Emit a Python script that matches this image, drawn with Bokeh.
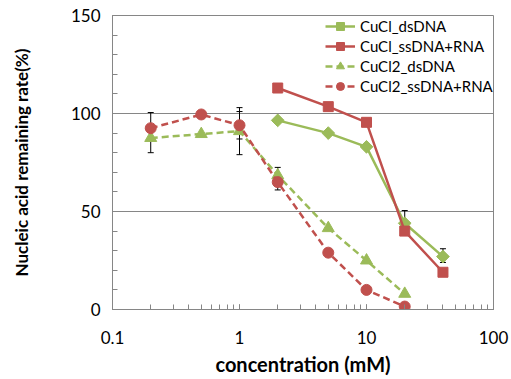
import math
from bokeh.plotting import figure
from bokeh.models import (ColumnDataSource, Whisker, LogTicker, FixedTicker,
                          CustomJSTickFormatter, Legend, LegendItem)
from bokeh.embed import file_html
from bokeh.resources import INLINE

# ---- data ----
cucl_x = [2, 5, 10, 20, 40]
cucl_ds = [96.5, 90, 83, 44, 27]
cucl_ss = [113, 103.5, 95.5, 40, 19]

cucl2_x = [0.2, 0.5, 1, 2, 5, 10, 20]
cucl2_ds = [87.5, 89.5, 91, 68.5, 41.5, 25, 8]
cucl2_ss = [92.5, 99.5, 94, 65, 29, 10, 1.5]

err_x = [0.2, 1, 1, 2, 20, 40]
err_lower = [80, 87, 79, 61, 39, 24]
err_upper = [100.5, 101, 103, 72.5, 50.5, 31]

x_ticks = [0.1, 1, 10, 100]
y_ticks = [0, 50, 100, 150]

GREEN = "#9BBB59"
RED = "#C0504D"
GRAY = "#868686"
FONT = "Lato"

p = figure(width=511, height=379, x_axis_type="log",
           x_range=(0.1, 100), y_range=(0, 150),
           output_backend="svg", toolbar_location=None,
           min_border_left=112, min_border_right=18,
           min_border_top=15, min_border_bottom=70)

p.outline_line_color = GRAY
p.outline_line_width = 1
p.xgrid.visible = False
p.ygrid.ticker = FixedTicker(ticks=[50, 100])
p.ygrid.grid_line_color = GRAY
p.ygrid.grid_line_width = 1

# x axis
p.xaxis.ticker = LogTicker(desired_num_ticks=4, num_minor_ticks=10)
p.xaxis.formatter = CustomJSTickFormatter(
    code="return tick >= 1 ? tick.toFixed(0) : tick.toFixed(1);")
p.xaxis.axis_label = "concentration (mM)"
# y axis
p.yaxis.ticker = FixedTicker(ticks=y_ticks, minor_ticks=list(range(0, 151, 10)))
p.yaxis.axis_label = "Nucleic acid remaining rate(%)"

for ax in (p.xaxis[0], p.yaxis[0]):
    ax.axis_line_color = GRAY
    ax.major_tick_line_color = GRAY
    ax.minor_tick_line_color = GRAY
    ax.major_tick_in = 5
    ax.major_tick_out = 0
    ax.minor_tick_in = 5
    ax.minor_tick_out = 0
    ax.major_label_text_font = FONT
    ax.major_label_text_font_size = "17px"
    ax.major_label_text_color = "#000000"
    ax.axis_label_text_font = FONT
    ax.axis_label_text_font_style = "bold"
    ax.axis_label_text_color = "#000000"

p.xaxis.axis_label_text_font_size = "20px"
p.yaxis.axis_label_text_font_size = "17px"
p.xaxis.major_label_standoff = 21
p.xaxis.axis_label_standoff = 5
p.yaxis.major_label_standoff = 12
p.yaxis.axis_label_standoff = 36

items = []

# CuCl_dsDNA
l1 = p.line(cucl_x, cucl_ds, line_color=GREEN, line_width=2.5)
m1 = p.scatter(cucl_x, cucl_ds, marker="square", angle=math.pi / 4, size=9,
               fill_color=GREEN, line_color=GREEN)
items.append(LegendItem(label="CuCl_dsDNA", renderers=[l1, m1]))

# CuCl_ssDNA+RNA
l2 = p.line(cucl_x, cucl_ss, line_color=RED, line_width=2.5)
m2 = p.scatter(cucl_x, cucl_ss, marker="square", size=10,
               fill_color=RED, line_color=RED)
items.append(LegendItem(label="CuCl_ssDNA+RNA", renderers=[l2, m2]))

# CuCl2_dsDNA
l3 = p.line(cucl2_x, cucl2_ds, line_color=GREEN, line_width=2.5, line_dash="7 4")
m3 = p.scatter(cucl2_x, cucl2_ds, marker="triangle", size=12,
               fill_color=GREEN, line_color=GREEN)
items.append(LegendItem(label="CuCl2_dsDNA", renderers=[l3, m3]))

# CuCl2_ssDNA+RNA
l4 = p.line(cucl2_x, cucl2_ss, line_color=RED, line_width=2.5, line_dash="7 4")
m4 = p.scatter(cucl2_x, cucl2_ss, marker="circle", size=11,
               fill_color=RED, line_color=RED)
items.append(LegendItem(label="CuCl2_ssDNA+RNA", renderers=[l4, m4]))

# error bars
esrc = ColumnDataSource(data=dict(x=err_x, lower=err_lower, upper=err_upper))
wh = Whisker(source=esrc, base="x", lower="lower", upper="upper",
             line_color="black", line_width=1)
wh.upper_head.size = 6
wh.lower_head.size = 6
wh.upper_head.line_color = "black"
wh.lower_head.line_color = "black"
p.add_layout(wh)

legend = Legend(items=items, location=(213, 213),
                glyph_width=30, glyph_height=20, label_height=20,
                spacing=0, padding=0, margin=0, label_standoff=5,
                label_text_font=FONT, label_text_font_size="15px",
                label_text_color="#000000",
                background_fill_alpha=0, border_line_alpha=0)
p.add_layout(legend)

open("out.html", "w").write(file_html(p, INLINE))
